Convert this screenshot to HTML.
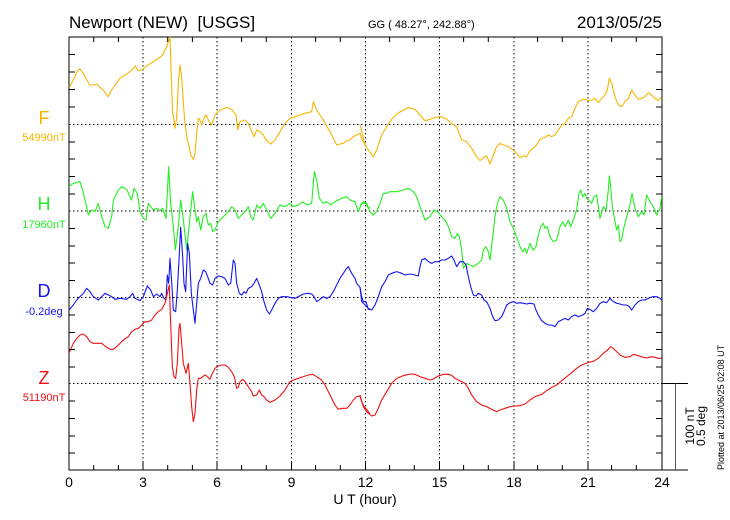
<!DOCTYPE html>
<html><head><meta charset="utf-8"><style>
html,body{margin:0;padding:0;background:#fff;}
svg{display:block;font-family:"Liberation Sans",sans-serif;}
.t{fill:none;stroke-width:1.1;vector-effect:non-scaling-stroke;stroke-linejoin:round}
</style></head><body>
<svg width="730" height="520" viewBox="0 0 730 520" xmlns="http://www.w3.org/2000/svg">
<rect width="730" height="520" fill="#fff"/>
<text x="69" y="28" font-size="17">Newport (NEW)&#160; [USGS]</text>
<text x="368" y="28" font-size="11">GG ( 48.27°, 242.88°)</text>
<text x="662" y="28" font-size="17" text-anchor="end">2013/05/25</text>
<g stroke="#000" stroke-dasharray="1.5,2.5" stroke-width="1">
<line x1="143" y1="37" x2="143" y2="470"/><line x1="217" y1="37" x2="217" y2="470"/>
<line x1="291.5" y1="37" x2="291.5" y2="470"/><line x1="365.5" y1="37" x2="365.5" y2="470"/>
<line x1="439.5" y1="37" x2="439.5" y2="470"/><line x1="514" y1="37" x2="514" y2="470"/>
<line x1="588" y1="37" x2="588" y2="470"/>
<line x1="69" y1="124.5" x2="662" y2="124.5"/><line x1="69" y1="211" x2="662" y2="211"/>
<line x1="69" y1="297.5" x2="662" y2="297.5"/><line x1="69" y1="383.5" x2="662" y2="383.5"/>
</g>
<g stroke="#000" stroke-width="1" fill="none">
<rect x="69" y="37" width="593" height="433"/>
<line x1="662" y1="383.5" x2="688" y2="383.5"/><line x1="662" y1="470" x2="688" y2="470"/>
<line x1="675.5" y1="383.5" x2="675.5" y2="470" stroke="#555"/>
</g>
<g transform="scale(0.33333)">
<polyline class="t" stroke="#f7b500" points="208,262 220,240 232,212 240,207 250,220 260,240 270,255 280,255 290,252 300,262 310,270 320,285 325,290 335,270 345,255 360,235 375,225 390,215 400,205 406,198 415,212 425,210 440,198 455,188 470,178 485,168 495,150 500,140 505,125 510,112 513,200 518,340 522,360 525,385 530,355 535,250 540,195 545,230 550,310 555,370 562,420 568,440 572,465 580,478 585,460 590,400 595,355 600,360 605,375 612,355 618,345 625,360 635,375 645,345 655,335 665,328 680,322 695,328 708,345 713,390 720,365 735,360 745,370 755,395 762,410 770,390 780,395 790,405 800,422 812,432 825,420 840,395 855,370 870,355 885,350 900,345 915,340 935,335 940,305 950,330 960,345 970,360 980,378 990,395 1000,415 1010,435 1020,432 1030,430 1040,422 1050,420 1060,410 1070,405 1080,400 1085,415 1095,435"/>
</g>
<g transform="translate(360,30) scale(0.33333)">
<polyline class="t" stroke="#f7b500" points="0,283 15,345 25,360 40,380 50,360 65,315 80,290 95,268 110,252 130,240 145,233 165,238 180,255 195,272 210,268 225,262 245,260 260,268 275,280 290,290 305,330 320,335 335,355 350,380 360,392 370,383 380,378 390,402 400,375 410,350 420,340 430,345 445,350 460,360 470,370 480,383 490,378 500,380 510,362 520,355 530,345 540,328 555,322 565,315 575,320 585,315 595,300 605,285 615,280 625,265 635,260 645,235 655,215 665,210 675,207 685,212 695,210 705,205 715,218 725,205 735,195 742,180 748,145 755,160 765,200 775,225 785,230 795,215 805,205 815,180 825,195 835,208 845,205 855,200 865,188 875,195 885,205 895,212 905,200"/>
</g>
<g transform="translate(60,150) scale(0.33333)">
<polyline class="t" stroke="#22ee22" points="27,110 40,100 60,95 65,110 75,150 85,195 95,180 105,185 115,160 125,200 135,230 145,235 155,200 160,150 175,120 185,110 200,118 210,140 215,150 222,115 232,130 240,185 250,205 258,210 265,160 272,170 280,180 290,175 300,182 308,175 318,205 326,50 332,160 340,230 346,300 355,230 362,150 370,210 380,300 390,200 398,125 405,180 410,215 415,200 422,240 430,200 438,190 445,225 452,220 458,245 465,240 475,215 490,200 505,185 515,170 525,180 535,205 545,195 555,185 565,170 572,200 580,210 590,165 600,175 610,160 620,180 632,205 645,190 660,165 675,170 690,160 700,170 715,165 728,155 740,165 755,160 763,65 770,90 778,145 790,160 800,155 812,165 825,155 845,145 860,140 870,150 885,155 895,185 905,160 918,160 925,175 930,172"/>
<polyline class="t" stroke="#1515ee" points="27,480 40,465 50,450 60,440 70,430 80,415 90,425 100,440 115,450 125,440 135,430 145,435 155,440 165,448 180,445 200,448 210,440 218,430 225,445 240,452 250,440 262,408 272,420 280,440 290,432 300,440 305,430 312,445 318,450 322,375 326,400 330,325 336,410 340,480 347,485 352,420 357,330 362,232 368,320 372,400 377,425 383,280 388,310 394,430 400,480 405,520 410,460 415,400 422,385 430,360 437,365 443,380 450,400 458,405 465,385 475,378 485,380 495,385 505,405 512,400 520,330 525,340 530,400 538,430 545,435 552,425 558,430 565,415 575,410 582,400 590,385 598,405 605,425 612,455 620,480 628,492 635,480 645,460 655,445 665,440 680,440 690,442 705,445 715,440 730,432 745,430 755,432 762,440 770,455 780,448 790,440 800,445 810,440 820,425 830,405 840,385 850,370 860,355 865,350 875,370 885,385 890,400 900,412 905,440 910,455 918,455 925,478 930,478"/>
<polyline class="t" stroke="#ee1111" points="27,610 40,580 50,565 60,555 70,552 80,560 90,575 100,580 115,580 125,580 135,588 150,598 160,598 170,590 180,580 190,570 205,560 215,545 225,538 235,535 245,525 255,515 265,515 275,510 285,495 295,485 305,478 315,460 322,430 328,405 332,520 337,650 342,680 347,685 352,640 357,535 360,520 365,580 370,640 378,670 385,640 390,700 395,770 400,815 405,790 410,720 415,685 422,685 428,680 435,675 440,678 450,688 457,670 465,655 475,648 485,645 495,645 505,652 515,665 523,680 530,715 535,712 540,695 548,688 555,695 565,710 575,725 580,738 590,735 598,720 605,735 612,740 620,750 630,757 645,750 660,738 675,720 690,695 700,690 715,685 730,680 745,675 758,673 770,680 785,690 795,705 805,725 815,745 825,765 835,778 845,775 860,775 870,765 880,750 890,740 900,738 905,755 912,770 920,778 930,792"/>
</g>
<g transform="translate(360,150) scale(0.33333)">
<polyline class="t" stroke="#22ee22" points="0,170 10,155 20,160 30,185 40,195 50,185 60,160 70,130 80,130 90,125 110,125 130,120 145,115 160,125 170,140 180,170 195,210 210,200 222,180 232,185 245,200 255,210 265,230 275,260 285,265 292,250 298,260 305,300 310,355 320,340 330,345 340,350 355,340 365,330 370,300 378,290 385,305 390,330 397,270 405,200 412,160 420,140 430,150 440,175 450,215 460,235 470,260 480,290 488,305 495,295 500,310 510,280 520,300 528,290 535,255 542,230 550,220 555,235 562,230 570,260 580,275 590,270 600,230 608,215 615,230 625,210 632,230 640,210 650,180 657,130 662,120 668,140 675,130 680,145 686,150 695,160 702,140 710,135 720,205 730,170 738,180 745,120 748,78 752,110 757,170 765,215 770,240 775,225 780,275 785,270 790,240 800,200 810,165 816,130 825,175 835,200 845,185 852,195 860,135 870,155 880,170 890,195 900,175 905,140"/>
<polyline class="t" stroke="#1515ee" points="0,410 5,455 15,465 25,475 35,480 45,465 55,440 65,410 75,395 85,375 95,370 110,365 125,370 135,375 150,372 165,375 175,378 180,350 185,330 195,325 205,335 215,340 225,335 235,335 245,330 255,330 265,325 275,318 282,330 290,350 300,335 310,335 318,345 325,380 332,410 340,435 348,438 355,430 365,435 372,450 380,455 390,475 398,500 405,512 415,510 425,500 432,485 440,465 450,458 460,455 470,460 480,458 490,460 500,462 510,460 522,462 528,480 535,495 545,512 555,520 565,525 575,525 585,530 595,515 605,510 615,505 625,510 635,500 645,495 655,500 668,495 675,490 682,475 690,478 700,485 710,475 720,460 730,455 740,458 750,445 760,455 770,460 780,462 790,465 800,465 808,470 815,480 825,465 835,455 845,450 855,450 865,445 878,440 890,440 900,445 905,450"/>
<polyline class="t" stroke="#ee1111" points="0,735 10,770 20,785 35,798 45,795 55,775 65,750 80,725 95,700 110,685 130,677 150,672 165,673 180,680 195,685 210,690 220,687 235,678 250,673 265,673 275,676 285,685 295,690 315,700 325,715 335,735 350,755 365,765 380,770 395,778 410,785 420,780 435,775 450,770 465,768 480,767 495,762 510,750 525,740 545,733 560,722 575,712 590,705 605,692 620,680 635,668 650,655 665,645 685,637 700,634 715,625 730,610 745,598 752,590 760,595 770,605 780,615 795,622 810,620 820,613 835,617 850,622 860,624 875,620 885,622 895,625 905,625"/>
</g>
<g stroke="#000" stroke-width="1">
<path d="M93.7,37v5M118.4,37v5M167.7,37v5M192.4,37v5M241.6,37v5M266.3,37v5M315.6,37v5M340.3,37v5M389.6,37v5M414.3,37v5M463.6,37v5M488.3,37v5M537.6,37v5M562.3,37v5M611.6,37v5M636.3,37v5
M93.7,470v-5M118.4,470v-5M167.7,470v-5M192.4,470v-5M241.6,470v-5M266.3,470v-5M315.6,470v-5M340.3,470v-5M389.6,470v-5M414.3,470v-5M463.6,470v-5M488.3,470v-5M537.6,470v-5M562.3,470v-5M611.6,470v-5M636.3,470v-5
M143,470v-8M217,470v-8M291.5,470v-8M365.5,470v-8M439.5,470v-8M514,470v-8M588,470v-8
M69,54.5h6M69,72h6M69,89.5h6M69,107h6M69,142h6M69,159h6M69,176.5h6M69,194h6M69,228.5h6M69,246h6M69,263h6M69,280.5h6M69,315h6M69,332.5h6M69,349.5h6M69,367h6M69,401h6M69,418.5h6M69,436h6M69,453h6
M662,54.5h-6M662,72h-6M662,89.5h-6M662,107h-6M662,142h-6M662,159h-6M662,176.5h-6M662,194h-6M662,228.5h-6M662,246h-6M662,263h-6M662,280.5h-6M662,315h-6M662,332.5h-6M662,349.5h-6M662,367h-6M662,401h-6M662,418.5h-6M662,436h-6M662,453h-6"/>
</g>
<g font-size="14" text-anchor="middle">
<text x="69" y="487">0</text><text x="143" y="487">3</text><text x="217" y="487">6</text><text x="291.5" y="487">9</text><text x="365.5" y="487">12</text><text x="439.5" y="487">15</text><text x="514" y="487">18</text><text x="588" y="487">21</text><text x="662" y="487">24</text>
<text x="365" y="504">U T (hour)</text>
</g>
<g text-anchor="middle">
<text x="44" y="124" font-size="18" fill="#f7b500">F</text><text x="44" y="141" font-size="11" fill="#f7b500">54990nT</text>
<text x="44" y="210" font-size="18" fill="#22ee22">H</text><text x="44" y="228" font-size="11" fill="#22ee22">17960nT</text>
<text x="44" y="297" font-size="18" fill="#1515ee">D</text><text x="44" y="315" font-size="11" fill="#1515ee">-0.2deg</text>
<text x="44" y="384" font-size="18" fill="#ee1111">Z</text><text x="44" y="401" font-size="11" fill="#ee1111">51190nT</text>
</g>
<text transform="translate(694,426) rotate(-90)" font-size="12" text-anchor="middle">100 nT</text>
<text transform="translate(705,426) rotate(-90)" font-size="12" text-anchor="middle">0.5 deg</text>
<text transform="translate(724,470) rotate(-90)" font-size="9">Plotted at 2013/06/25 02:08 UT</text>
</svg>
</body></html>
